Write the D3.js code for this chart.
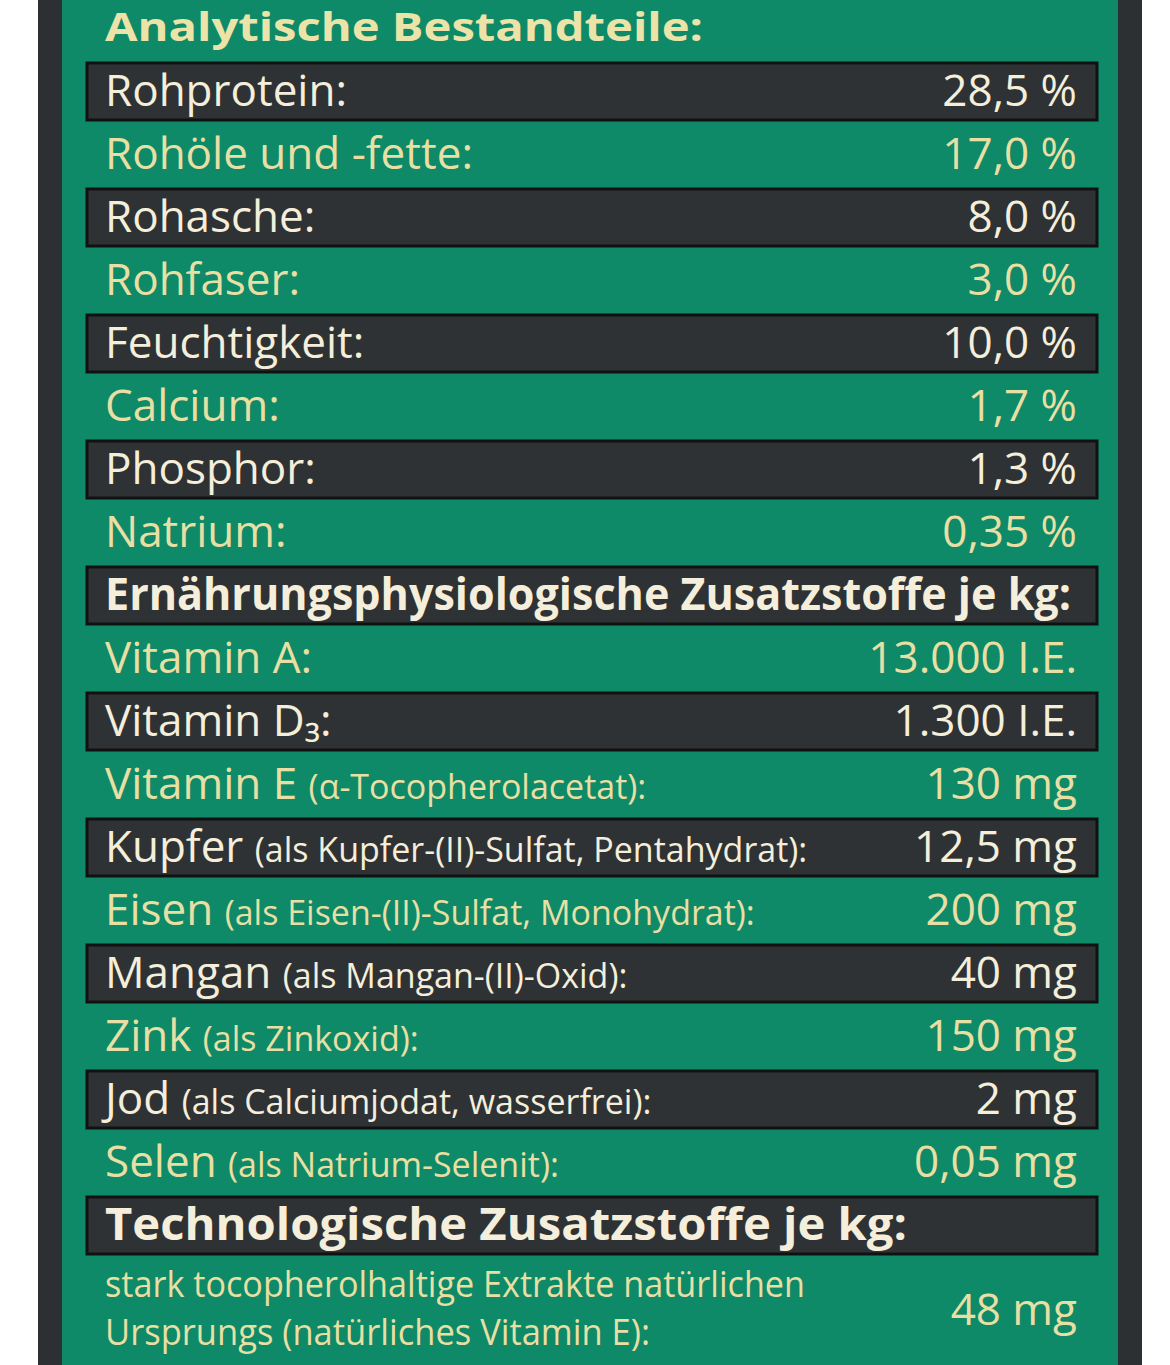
<!DOCTYPE html>
<html><head><meta charset="utf-8">
<script src="https://cdn.jsdelivr.net/npm/d3@7"></script>
<style>
body{margin:0;background:#fff;}
text{font-family:"Liberation Sans Narrow","Open Sans",sans-serif;}
</style></head>
<body><div id="chart"></div>
<script>
const width = 1170, height = 1365;

// rows: label, sub-label (small), value, kind
const labels = ["Analytische Bestandteile:", "Rohprotein:", "Rohöle und -fette:", "Rohasche:", "Rohfaser:", "Feuchtigkeit:", "Calcium:", "Phosphor:", "Natrium:",
  "Ernährungsphysiologische Zusatzstoffe je kg:", "Vitamin A:", "Vitamin D₃:", "Vitamin E ", "Kupfer ", "Eisen ", "Mangan ", "Zink ", "Jod ", "Selen ",
  "Technologische Zusatzstoffe je kg:", "stark tocopherolhaltige Extrakte natürlichen"];
const subLabels = ["", "", "", "", "", "", "", "", "", "", "", "", "(α-Tocopherolacetat):", "(als Kupfer-(II)-Sulfat, Pentahydrat):",
  "(als Eisen-(II)-Sulfat, Monohydrat):", "(als Mangan-(II)-Oxid):", "(als Zinkoxid):", "(als Calciumjodat, wasserfrei):", "(als Natrium-Selenit):", "", "Ursprungs (natürliches Vitamin E):"];
const values = ["", "28,5 %", "17,0 %", "8,0 %", "3,0 %", "10,0 %", "1,7 %", "1,3 %", "0,35 %", "", "13.000 I.E.", "1.300 I.E.", "130 mg",
  "12,5 mg", "200 mg", "40 mg", "150 mg", "2 mg", "0,05 mg", "", "48 mg"];
const kinds = ["title", "dark", "green", "dark", "green", "dark", "green", "dark", "green", "head", "green", "dark", "green", "dark", "green", "dark", "green", "dark", "green", "head", "double"];

const rows = labels.map((l, i) => ({i, label: l, sub: subLabels[i], value: values[i], kind: kinds[i]}));

const y = d3.scaleLinear().domain([0, 20]).range([29, 1289]);
const x = d3.scaleLinear().domain([0, 1]).range([87, 1097]);

const svg = d3.select("#chart").append("svg").attr("width", width).attr("height", height);

// frame
svg.append("rect").attr("x", 38).attr("y", 0).attr("width", 1104).attr("height", height).attr("fill", "#2c3032");
svg.append("rect").attr("x", 62).attr("y", 0).attr("width", 1056).attr("height", height).attr("fill", "#0e8a68");

const g = svg.selectAll(".row").data(rows).enter().append("g")
  .attr("class", "row").attr("transform", d => `translate(0,${y(d.i)})`);

g.filter(d => d.kind === "dark" || d.kind === "head").append("rect")
  .attr("x", x(0)).attr("y", -29).attr("width", x(1) - x(0)).attr("height", 57)
  .attr("fill", "#2f3234").attr("stroke", "#111").attr("stroke-width", 3);

const cream = "#f4eedb", gold = "#e8dfa4";
const col = d => (d.kind === "green" || d.kind === "double") ? gold : cream;

const lab = g.append("text")
  .attr("x", x(0) + 18).attr("y", d => d.kind === "double" ? 8 : d.kind === "title" ? 12 : 14)
  .attr("fill", d => d.kind === "title" ? "#ece3a8" : col(d))
  .attr("font-size", d => d.kind === "double" ? 36 : d.kind === "title" ? 40 : 44)
  .attr("font-weight", d => (d.kind === "title" || d.kind === "head") ? "bold" : "normal")
  .attr("textLength", d => d.kind === "title" ? 598 : d.kind === "head" ? (d.i === 9 ? 966 : 802) : d.kind === "double" ? 700 : null)
  .attr("lengthAdjust", "spacingAndGlyphs");
lab.append("tspan").text(d => d.label);
lab.filter(d => d.sub && d.kind !== "double").append("tspan").attr("font-size", 34).text(d => d.sub);

g.filter(d => d.kind === "double").append("text")
  .attr("x", x(0) + 18).attr("y", 56).attr("fill", gold).attr("font-size", 36)
  .attr("textLength", 545).attr("lengthAdjust", "spacingAndGlyphs").text(d => d.sub);

g.append("text")
  .attr("x", x(1) - 20).attr("y", d => d.kind === "double" ? 36 : 14)
  .attr("text-anchor", "end").attr("fill", col).attr("font-size", 44)
  .text(d => d.value);
</script></body></html>
